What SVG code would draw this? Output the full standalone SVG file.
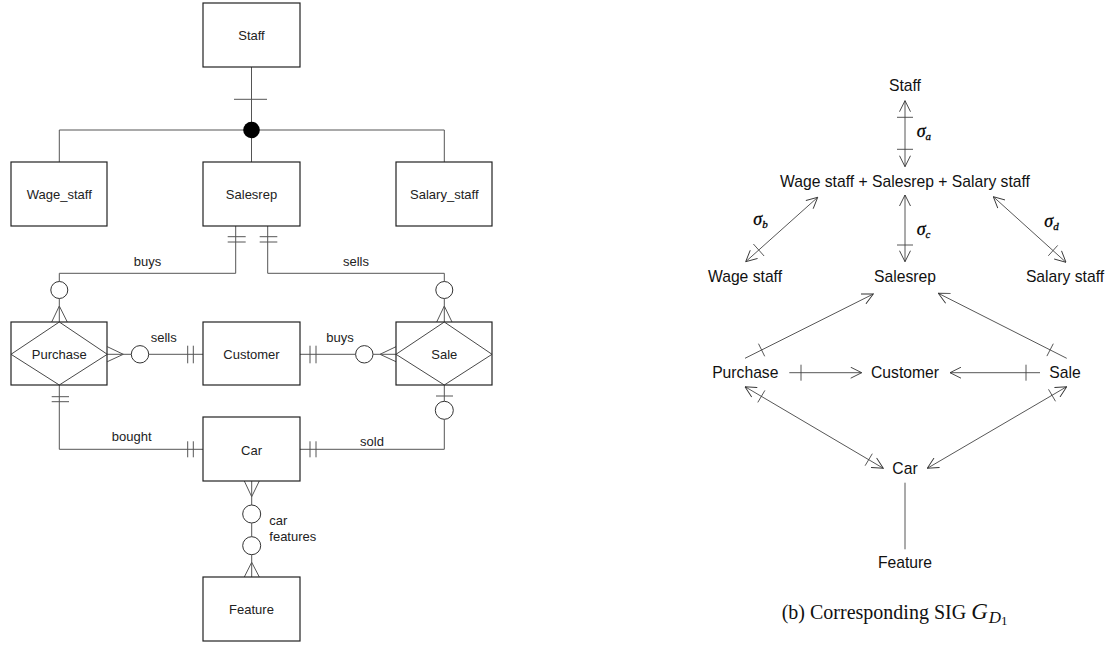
<svg xmlns="http://www.w3.org/2000/svg" width="1110" height="648" viewBox="0 0 1110 648">
<defs>
<marker id="ah" viewBox="0 0 12 12" refX="11.5" refY="6" markerWidth="12" markerHeight="12" markerUnits="userSpaceOnUse" orient="auto-start-reverse">
<path d="M0.5,0.5 L11.5,6 L0.5,11.5" fill="none" stroke="#333" stroke-width="0.9"/>
</marker>
</defs>
<style>
.box{fill:#fff;stroke:#222;stroke-width:1.2}
.dia{fill:none;stroke:#333;stroke-width:0.9}
.ln{fill:none;stroke:#555;stroke-width:1}
.cir{fill:#fff;stroke:#333;stroke-width:1}
.t{font-family:"Liberation Sans",Arial,sans-serif;font-size:13px;fill:#222;text-anchor:middle}
.tl{font-family:"Liberation Sans",Arial,sans-serif;font-size:13px;fill:#222;text-anchor:start}
.r{font-family:"Liberation Sans",Arial,sans-serif;font-size:15.7px;fill:#111;text-anchor:middle}
.sg{font-family:"Liberation Serif","Times New Roman",serif;font-style:italic;font-size:18px;fill:#000;stroke:#000;stroke-width:0.3}
.arr{fill:none;stroke:#444;stroke-width:0.9}
.cap{font-family:"Liberation Serif","Times New Roman",serif;font-size:20px;fill:#111}
</style>
<rect width="1110" height="648" fill="#fff"/>

<!-- ER diagram connectors -->
<g id="er-connectors">
<line class="ln" x1="251.5" y1="67" x2="251.5" y2="162"/>
<line class="ln" x1="234" y1="99.3" x2="267" y2="99.3"/>
<polyline class="ln" points="59.3,162 59.3,130 444.3,130 444.3,162"/>
<circle cx="251.5" cy="130" r="8.3" fill="#000"/>

<polyline class="ln" points="235.7,226 235.7,273.3 59.3,273.3 59.3,281.5"/>
<line class="ln" x1="227.7" y1="236.7" x2="245.7" y2="236.7"/>
<line class="ln" x1="227.7" y1="242" x2="245.7" y2="242"/>
<circle class="cir" cx="59.3" cy="290" r="8.5"/>
<line class="ln" x1="59.3" y1="298.5" x2="59.3" y2="322"/>
<polyline class="ln" points="51.7,322 59.3,306 67.3,322"/>

<polyline class="ln" points="267.7,226 267.7,273.3 444.3,273.3 444.3,281.5"/>
<line class="ln" x1="259.7" y1="236.7" x2="277.3" y2="236.7"/>
<line class="ln" x1="259.7" y1="242" x2="277.3" y2="242"/>
<circle class="cir" cx="444.3" cy="290" r="8.5"/>
<line class="ln" x1="444.3" y1="298.5" x2="444.3" y2="322"/>
<polyline class="ln" points="436.7,322 444.3,306 452,322"/>

<line class="ln" x1="107.3" y1="354.3" x2="131.3" y2="354.3"/>
<polyline class="ln" points="107.3,346.7 123.3,354.3 107.3,361.7"/>
<circle class="cir" cx="140" cy="354.3" r="8.7"/>
<line class="ln" x1="148.7" y1="354.3" x2="203" y2="354.3"/>
<line class="ln" x1="187.7" y1="345.7" x2="187.7" y2="363.3"/>
<line class="ln" x1="193.3" y1="345.7" x2="193.3" y2="363.3"/>

<line class="ln" x1="300" y1="354.3" x2="355.6" y2="354.3"/>
<line class="ln" x1="310" y1="345.7" x2="310" y2="363.3"/>
<line class="ln" x1="316" y1="345.7" x2="316" y2="363.3"/>
<circle class="cir" cx="364.3" cy="354.3" r="8.7"/>
<line class="ln" x1="373" y1="354.3" x2="396" y2="354.3"/>
<polyline class="ln" points="396,346.7 380,354.3 396,361.7"/>

<polyline class="ln" points="59.3,385 59.3,449.3 203,449.3"/>
<line class="ln" x1="51.7" y1="396.7" x2="69" y2="396.7"/>
<line class="ln" x1="51.7" y1="401.7" x2="69" y2="401.7"/>
<line class="ln" x1="187.7" y1="441.3" x2="187.7" y2="457.3"/>
<line class="ln" x1="193.3" y1="441.3" x2="193.3" y2="457.3"/>

<line class="ln" x1="444.3" y1="385" x2="444.3" y2="401.3"/>
<line class="ln" x1="436" y1="396" x2="453" y2="396"/>
<circle class="cir" cx="444.3" cy="410.3" r="9"/>
<polyline class="ln" points="444.3,419.3 444.3,449.3 300,449.3"/>
<line class="ln" x1="310" y1="441.3" x2="310" y2="457.3"/>
<line class="ln" x1="316" y1="441.3" x2="316" y2="457.3"/>

<line class="ln" x1="251.7" y1="481" x2="251.7" y2="505"/>
<polyline class="ln" points="244.3,481 251.7,496.7 259.3,481"/>
<circle class="cir" cx="251.7" cy="514" r="9"/>
<line class="ln" x1="251.7" y1="523" x2="251.7" y2="536.7"/>
<circle class="cir" cx="251.7" cy="545.7" r="9"/>
<line class="ln" x1="251.7" y1="554.7" x2="251.7" y2="577"/>
<polyline class="ln" points="244.3,577 251.7,562.3 259.3,577"/>

<text class="t" x="147.5" y="266">buys</text>
<text class="t" x="356" y="266">sells</text>
<text class="t" x="163.7" y="341.5">sells</text>
<text class="t" x="340" y="341.5">buys</text>
<text class="t" x="131.7" y="441">bought</text>
<text class="t" x="372" y="445.5">sold</text>
<text class="tl" x="269.3" y="525">car</text>
<text class="tl" x="269.3" y="540.5">features</text>
</g>

<!-- ER nodes -->
<g id="er-staff"><rect class="box" x="203" y="3" width="97" height="64"/><text class="t" x="251.5" y="40">Staff</text></g>
<g id="er-wage"><rect class="box" x="11" y="162" width="96" height="64"/><text class="t" x="59.3" y="198.5">Wage_staff</text></g>
<g id="er-salesrep"><rect class="box" x="203" y="162" width="97" height="64"/><text class="t" x="251.5" y="198.5">Salesrep</text></g>
<g id="er-salary"><rect class="box" x="396" y="162" width="96" height="64"/><text class="t" x="444.3" y="198.5">Salary_staff</text></g>
<g id="er-purchase"><rect class="box" x="11" y="322" width="96" height="63"/><polygon class="dia" points="11,354.3 59.3,322 107.3,354.3 59.3,385"/><text class="t" x="59.3" y="359">Purchase</text></g>
<g id="er-customer"><rect class="box" x="203" y="322" width="97" height="63"/><text class="t" x="251.5" y="359">Customer</text></g>
<g id="er-sale"><rect class="box" x="396" y="322" width="96" height="63"/><polygon class="dia" points="396,354.3 444.3,322 492,354.3 444.3,385"/><text class="t" x="444.3" y="359">Sale</text></g>
<g id="er-car"><rect class="box" x="203" y="417" width="97" height="64"/><text class="t" x="251.5" y="455">Car</text></g>
<g id="er-feature"><rect class="box" x="203" y="577" width="97" height="64"/><text class="t" x="251.5" y="613.5">Feature</text></g>

<!-- SIG connectors -->
<g id="sig-connectors">
<line class="arr" x1="905" y1="100.7" x2="905" y2="166.7" marker-start="url(#ah)" marker-end="url(#ah)"/>
<line class="arr" x1="897" y1="117.3" x2="913" y2="117.3"/>
<line class="arr" x1="897" y1="149.3" x2="913" y2="149.3"/>

<line class="arr" x1="817.7" y1="197.3" x2="745.7" y2="261.7" marker-start="url(#ah)" marker-end="url(#ah)"/>
<line class="arr" x1="764.1" y1="256" x2="753.4" y2="244"/>

<line class="arr" x1="905" y1="195" x2="905" y2="261.7" marker-start="url(#ah)" marker-end="url(#ah)"/>
<line class="arr" x1="897" y1="245" x2="913" y2="245"/>

<line class="arr" x1="993.3" y1="196.7" x2="1066" y2="262.3" marker-start="url(#ah)" marker-end="url(#ah)"/>
<line class="arr" x1="1057.7" y1="245.4" x2="1048.3" y2="255.8"/>

<line class="arr" x1="745" y1="358.3" x2="873.3" y2="294" marker-end="url(#ah)"/>
<line class="arr" x1="764.7" y1="356.3" x2="758.5" y2="343.7"/>

<line class="arr" x1="1066.7" y1="358.3" x2="938.3" y2="293.3" marker-end="url(#ah)"/>
<line class="arr" x1="1053.3" y1="343.7" x2="1046.9" y2="356.1"/>

<line class="arr" x1="789.3" y1="372.7" x2="861.7" y2="372.7" marker-end="url(#ah)"/>
<line class="arr" x1="801" y1="364.7" x2="801" y2="380.7"/>

<line class="arr" x1="1040" y1="372.7" x2="950" y2="372.7" marker-end="url(#ah)"/>
<line class="arr" x1="1026" y1="364.7" x2="1026" y2="380.7"/>

<line class="arr" x1="745" y1="386.7" x2="883.3" y2="468.3" marker-start="url(#ah)" marker-end="url(#ah)"/>
<line class="arr" x1="757.8" y1="402.4" x2="764.9" y2="390.4"/>
<line class="arr" x1="865.1" y1="465.7" x2="872.3" y2="453.7"/>

<line class="arr" x1="1066.7" y1="386.7" x2="927.3" y2="468.3" marker-start="url(#ah)" marker-end="url(#ah)"/>
<line class="arr" x1="1055.5" y1="401.3" x2="1048.5" y2="389.3"/>

<line class="arr" x1="905" y1="482.7" x2="905" y2="549.3"/>

<text class="sg" x="916.7" y="137.3">σ<tspan font-size="11" dy="3">a</tspan></text>
<text class="sg" x="753.3" y="225">σ<tspan font-size="11" dy="3">b</tspan></text>
<text class="sg" x="916.7" y="235">σ<tspan font-size="11" dy="3">c</tspan></text>
<text class="sg" x="1044.3" y="226.7">σ<tspan font-size="11" dy="3">d</tspan></text>
</g>

<!-- SIG nodes -->
<g id="sig-staff"><text class="r" x="905" y="90.7">Staff</text></g>
<g id="sig-union"><text class="r" x="905" y="186.7">Wage staff + Salesrep + Salary staff</text></g>
<g id="sig-wage"><text class="r" x="745" y="281.7">Wage staff</text></g>
<g id="sig-salesrep"><text class="r" x="905" y="281.7">Salesrep</text></g>
<g id="sig-salary"><text class="r" x="1065" y="281.7">Salary staff</text></g>
<g id="sig-purchase"><text class="r" x="745.3" y="377.7">Purchase</text></g>
<g id="sig-customer"><text class="r" x="905" y="377.7">Customer</text></g>
<g id="sig-sale"><text class="r" x="1065" y="377.7">Sale</text></g>
<g id="sig-car"><text class="r" x="905" y="474.3">Car</text></g>
<g id="sig-feature"><text class="r" x="905" y="568.3">Feature</text></g>

<text class="cap" x="781.7" y="619">(b) Corresponding SIG <tspan font-style="italic" font-size="23">G</tspan><tspan font-style="italic" font-size="17" dx="1" dy="4">D</tspan><tspan font-size="13" dy="2">1</tspan></text>
</svg>
